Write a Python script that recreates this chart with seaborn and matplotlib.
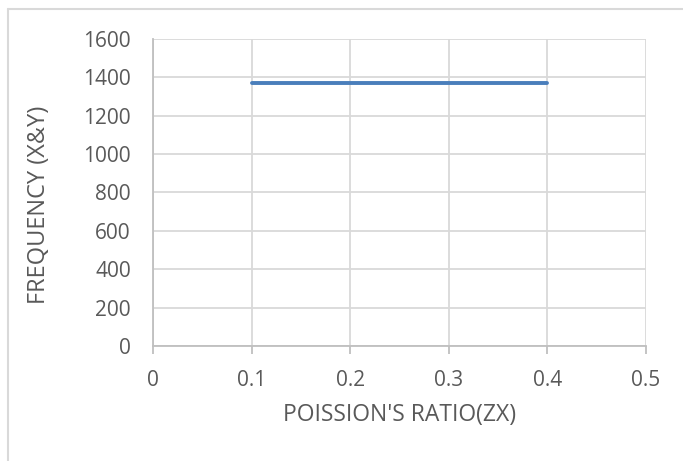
import pandas as pd
import seaborn as sns
import matplotlib.pyplot as plt
from matplotlib.lines import Line2D

poisson_ratio = [0.1, 0.2, 0.3, 0.4]
frequency = [1370, 1370, 1370, 1370]
x_ticks = [0, 0.1, 0.2, 0.3, 0.4, 0.5]
y_ticks = [0, 200, 400, 600, 800, 1000, 1200, 1400, 1600]

df = pd.DataFrame({"ratio": poisson_ratio, "freq": frequency})

sns.set_theme(style="white")
plt.rcParams["font.family"] = ["Open Sans", "DejaVu Sans"]

txt = "#595959"
grid = "#d9d9d9"

fig = plt.figure(figsize=(6.83, 4.61), dpi=100)
ax = fig.add_axes([153 / 683, 1 - 346 / 461, (646 - 153) / 683, (346 - 39) / 461])

sns.lineplot(data=df, x="ratio", y="freq", ax=ax, color="#4a7ebb", linewidth=2.8)

ax.set_xlim(0, 0.5)
ax.set_ylim(0, 1600)
ax.set_xticks(x_ticks)
ax.set_xticklabels([f"{v:g}" for v in x_ticks])
ax.set_yticks(y_ticks)
ax.grid(True, color=grid, linewidth=1.3)
ax.set_axisbelow(True)

for s in ["top", "right"]:
    ax.spines[s].set_visible(False)
for s in ["left", "bottom"]:
    ax.spines[s].set_color("#bfbfbf")
    ax.spines[s].set_linewidth(1.3)

ax.tick_params(axis="x", bottom=True, length=6, width=1.3, color="#bfbfbf",
               labelsize=15, labelcolor=txt, pad=11)
ax.tick_params(axis="y", left=False, labelsize=15, labelcolor=txt, pad=10)

ax.set_xlabel("POISSION'S RATIO(ZX)", fontsize=16.5, color=txt, va="center")
ax.xaxis.set_label_coords(0.5, -0.225)
ax.set_ylabel("FREQUENCY (X&Y)", fontsize=17, color=txt, va="center")
ax.yaxis.set_label_coords(-0.231, 0.459)

# chart area border (Excel-style)
fig.add_artist(Line2D([8 / 683, 1], [1 - 9.5 / 461] * 2, transform=fig.transFigure,
                      color="#d9d9d9", linewidth=1.5))
fig.add_artist(Line2D([8 / 683] * 2, [0, 1 - 9.5 / 461], transform=fig.transFigure,
                      color="#d9d9d9", linewidth=1.5))

fig.savefig("out.png", dpi=100)
